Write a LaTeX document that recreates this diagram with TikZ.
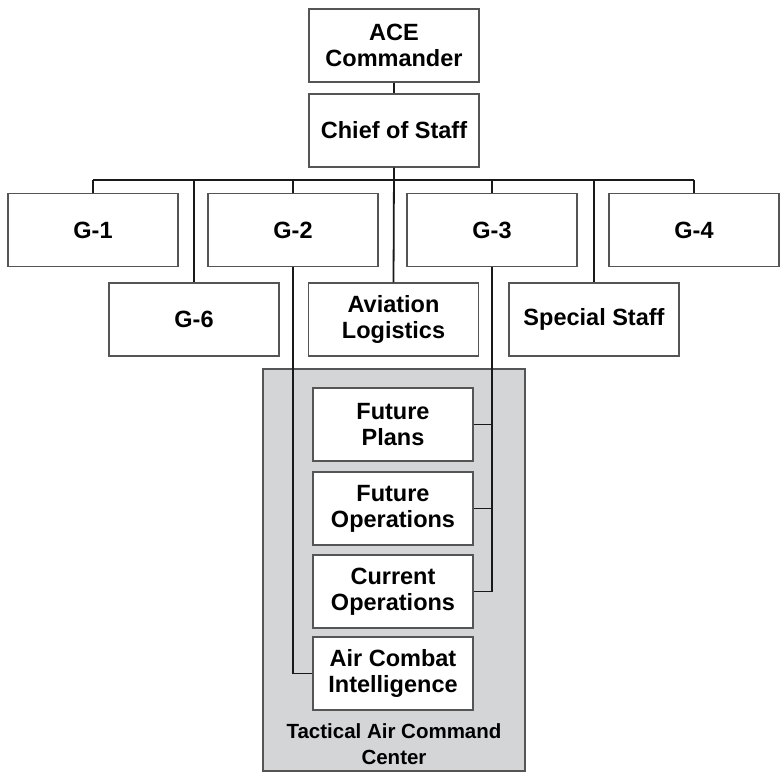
\documentclass[tikz,border=0pt]{standalone}
\usepackage{fontspec}
\setmainfont{Liberation Sans}
\usepackage{xcolor}
\definecolor{boxframe}{RGB}{85, 85, 85}
\definecolor{linkline}{RGB}{25, 25, 25}
\definecolor{taccfill}{RGB}{212, 213, 215}
\usepackage{tikz}
\usetikzlibrary{
    positioning,
    calc
}
\tikzstyle{staffbox} = [
    rectangle,
    draw=boxframe,
    line width=1.1pt,
    fill=white,
    minimum width=170pt,
    minimum height=73pt,
    align=center,
    inner sep=0pt,
    font=\fontsize{23.5}{26}\selectfont\bfseries
]
\tikzstyle{cellbox} = [
    staffbox,
    minimum width=160pt
]
\tikzstyle{link} = [
    draw=linkline,
    line width=1.8pt
]

\begin{document}
\begin{tikzpicture}[x=1pt, y=-1pt]
    \useasboundingbox (0,0) rectangle (783,776);

    % Tactical Air Command Center area
    \node[rectangle, draw=boxframe, line width=1.1pt, fill=taccfill,
          minimum width=262pt, minimum height=402pt, inner sep=0pt] (tacc) at (394,570) {};
    \node[align=center, font=\fontsize{20.5}{26}\selectfont\bfseries] (tacclabel) at (394,744)
        {Tactical Air Command\\Center};

    % Command group
    \node[staffbox] (ace) at (394,45.5) {ACE\\Commander};
    \node[staffbox] (cos) at (394,130.5) {Chief of Staff};

    % Staff sections
    \node[staffbox] (g1) at (93,230) {G-1};
    \node[staffbox] (g2) at (293,230) {G-2};
    \node[staffbox] (g3) at (492,230) {G-3};
    \node[staffbox] (g4) at (694,230) {G-4};
    \node[staffbox] (g6) at (194,319.5) {G-6};
    \node[staffbox] (avlog) at (393.5,319.5) {Aviation\\Logistics};
    \node[staffbox] (spstaff) at (594,319.5) {Special Staff};

    % TACC cells
    \node[cellbox] (fplans) at (393,424.5) {Future\\Plans};
    \node[cellbox] (fops) at (393,508.5) {Future\\Operations};
    \node[cellbox] (cops) at (393,591.5) {Current\\Operations};
    \node[cellbox] (aci) at (393,673.5) {Air Combat\\Intelligence};

    % Bus
    \coordinate (bus) at (394,180);
    \draw[link] (ace.south) -- (cos.north);
    \draw[link] (cos.south) -- (avlog.north);
    \draw[link] (g1.north |- bus) -- (g4.north |- bus);
    \foreach \s in {g1, g2, g3, g4, g6, spstaff}
        \draw[link] (\s.north |- bus) -- (\s.north);

    % G-2 and G-3 lines into the TACC
    \draw[link] (g2.south) |- (aci.west);
    \draw[link] (g3.south) |- (cops.east);
    \draw[link] (fplans.east) -- (fplans.east -| g3.south);
    \draw[link] (fops.east) -- (fops.east -| g3.south);
\end{tikzpicture}
\end{document}
